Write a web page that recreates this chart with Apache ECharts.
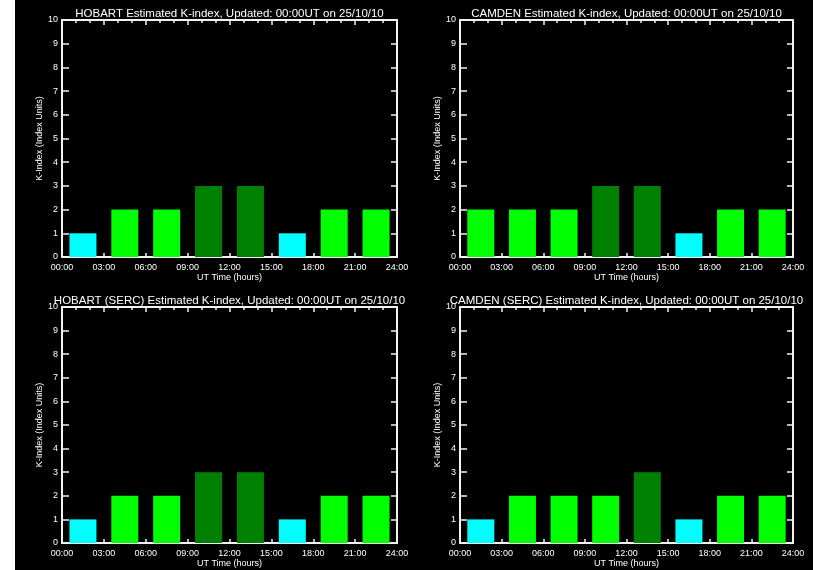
<!DOCTYPE html>
<html>
<head>
<meta charset="utf-8">
<script src="https://cdn.jsdelivr.net/npm/echarts@6/dist/echarts.min.js"></script>
<style>
  html, body { margin: 0; padding: 0; background: #fff; }
  #chart { position: absolute; left: 15px; top: 0; width: 798px; height: 570px; }
</style>
</head>
<body>
<div id="chart"></div>
<script>
// Three-hour K-index bins (centre hour of each bin)
const binCentres = [1.5, 4.5, 7.5, 10.5, 13.5, 16.5, 19.5, 22.5];
const hourTicks = ['00:00', '03:00', '06:00', '09:00', '12:00', '15:00', '18:00', '21:00', '24:00'];

const hobart     = [1, 2, 2, 3, 3, 1, 2, 2];
const camden     = [2, 2, 2, 3, 3, 1, 2, 2];
const hobartSerc = [1, 2, 2, 3, 3, 1, 2, 2];
const camdenSerc = [1, 2, 2, 2, 3, 1, 2, 2];

const panelTitles = [
  'HOBART Estimated K-index, Updated: 00:00UT on 25/10/10',
  'CAMDEN Estimated K-index, Updated: 00:00UT on 25/10/10',
  'HOBART (SERC) Estimated K-index, Updated: 00:00UT on 25/10/10',
  'CAMDEN (SERC) Estimated K-index, Updated: 00:00UT on 25/10/10'
];
const panelData = [hobart, camden, hobartSerc, camdenSerc];

// K value -> bar colour
const kColours = { 1: '#00ffff', 2: '#00ff00', 3: '#008000' };

const FONT = 'Liberation Sans';
const LINE = '#f2f2f2';

const gridBoxes = [
  { left: 47,  top: 20,  width: 335, height: 237 },
  { left: 445, top: 20,  width: 333, height: 237 },
  { left: 47,  top: 307, width: 335, height: 236 },
  { left: 445, top: 307, width: 333, height: 236 }
];

const grid = [], xAxis = [], yAxis = [], series = [], title = [];

gridBoxes.forEach((g, i) => {
  grid.push(Object.assign({ containLabel: false }, g));

  title.push({
    text: panelTitles[i],
    left: g.left + g.width / 2 - 5,
    top: g.top - 17,
    textAlign: 'center',
    textStyle: { color: '#fff', fontFamily: FONT, fontSize: 11.5, fontWeight: 'normal' }
  });

  // bottom time axis
  xAxis.push({
    type: 'value', gridIndex: i, position: 'bottom',
    min: 0, max: 24, interval: 3,
    name: 'UT Time (hours)', nameLocation: 'middle', nameGap: 16,
    nameTextStyle: { color: '#fff', fontFamily: FONT, fontSize: 9 },
    axisLine: { show: true, onZero: false, lineStyle: { color: LINE, width: 2 } },
    axisTick: { show: true, inside: true, length: 4, lineStyle: { color: LINE, width: 1.5 } },
    axisLabel: {
      color: '#fff', fontFamily: FONT, fontSize: 9, margin: 6,
      formatter: v => hourTicks[Math.round(v / 3)]
    },
    splitLine: { show: false }
  });
  // top frame with hourly minor ticks
  xAxis.push({
    type: 'value', gridIndex: i, position: 'top',
    min: 0, max: 24, interval: 3,
    axisLine: { show: true, onZero: false, lineStyle: { color: LINE, width: 2 } },
    axisTick: { show: true, inside: true, length: 5, lineStyle: { color: LINE, width: 1.5 } },
    minorTick: { show: true, splitNumber: 3, length: 3, lineStyle: { color: LINE, width: 1.5 } },
    axisLabel: { show: false },
    splitLine: { show: false }
  });
  // left K-index axis
  yAxis.push({
    type: 'value', gridIndex: i, position: 'left',
    min: 0, max: 10, interval: 1,
    name: 'K-Index (Index Units)', nameLocation: 'middle', nameGap: 16,
    nameTextStyle: { color: '#fff', fontFamily: FONT, fontSize: 9 },
    axisLine: { show: true, onZero: false, lineStyle: { color: LINE, width: 2 } },
    axisTick: { show: true, inside: true, length: 7, lineStyle: { color: LINE, width: 1.5 } },
    axisLabel: { color: '#fff', fontFamily: FONT, fontSize: 9, margin: 4 },
    splitLine: { show: false }
  });
  // right frame
  yAxis.push({
    type: 'value', gridIndex: i, position: 'right',
    min: 0, max: 10, interval: 1,
    axisLine: { show: true, onZero: false, lineStyle: { color: LINE, width: 2 } },
    axisTick: { show: true, inside: true, length: 6, lineStyle: { color: LINE, width: 1.5 } },
    axisLabel: { show: false },
    splitLine: { show: false }
  });

  series.push({
    type: 'bar',
    xAxisIndex: i * 2,
    yAxisIndex: i * 2,
    barWidth: 27,
    silent: true,
    z: 1,
    data: panelData[i].map((k, j) => ({
      value: [binCentres[j], k],
      itemStyle: { color: kColours[k] }
    }))
  });
});

const chart = echarts.init(document.getElementById('chart'), null, { renderer: 'canvas' });
chart.setOption({
  backgroundColor: '#000',
  animation: false,
  title, grid, xAxis, yAxis, series
});
</script>
</body>
</html>
